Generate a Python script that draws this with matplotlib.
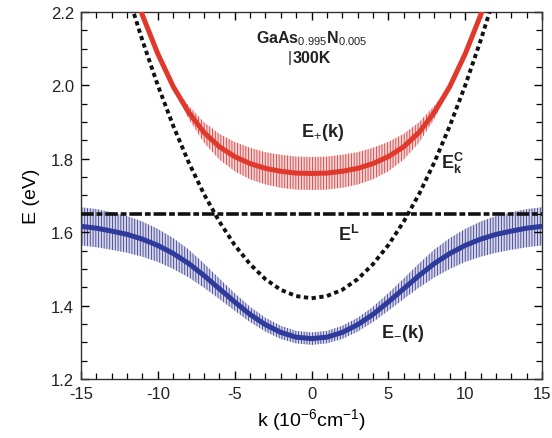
import matplotlib
matplotlib.use("Agg")
import matplotlib.pyplot as plt
import numpy as np

plt.rcParams['font.family'] = ['Liberation Sans', 'DejaVu Sans']
plt.rcParams['mathtext.fontset'] = 'custom'
plt.rcParams['mathtext.rm'] = 'Liberation Sans'
plt.rcParams['mathtext.it'] = 'Liberation Sans:italic'
plt.rcParams['mathtext.bf'] = 'Liberation Sans:bold'
plt.rcParams['hatch.linewidth'] = 0.6
plt.rcParams['axes.unicode_minus'] = False
plt.rcParams['xtick.direction'] = 'in'
plt.rcParams['ytick.direction'] = 'in'
plt.rcParams['xtick.top'] = True
plt.rcParams['ytick.right'] = True
plt.rcParams['xtick.major.size'] = 6
plt.rcParams['ytick.major.size'] = 6
plt.rcParams['xtick.minor.size'] = 4
plt.rcParams['ytick.minor.size'] = 4
plt.rcParams['xtick.major.width'] = 1.0
plt.rcParams['ytick.major.width'] = 1.0
plt.rcParams['xtick.minor.width'] = 0.9
plt.rcParams['ytick.minor.width'] = 0.9

# k values (1e6 cm^-1)
k_full = list(range(-15, 16))
k_mid = list(range(-12, 13))

# lower band E-(k) and its broadening, k = 0..15 (symmetric)
e_minus_half = [1.310, 1.314, 1.327, 1.348, 1.376, 1.410, 1.446, 1.482,
                1.515, 1.542, 1.564, 1.581, 1.594, 1.603, 1.611, 1.616]
err_minus_half = [0.017, 0.017, 0.018, 0.019, 0.021, 0.024, 0.028, 0.033,
                  0.038, 0.042, 0.045, 0.048, 0.050, 0.051, 0.052, 0.052]

# upper band E+(k) and its broadening, k = 0..12
e_plus_half = [1.760, 1.761, 1.766, 1.774, 1.787, 1.806, 1.833, 1.872,
               1.927, 1.997, 2.086, 2.191, 2.312]
err_plus_half = [0.045, 0.045, 0.045, 0.044, 0.043, 0.040, 0.035, 0.028,
                 0.018, 0.0, 0.0, 0.0, 0.0]

# unperturbed conduction band E_k^C, k = 0..12
ec_half = [1.420, 1.426, 1.443, 1.472, 1.513, 1.565, 1.629, 1.704,
           1.791, 1.890, 2.000, 2.122, 2.255]

# localized nitrogen level
e_l = 1.65

def mirror(v):
    return v[:0:-1] + v

e_minus = np.array(mirror(e_minus_half))
err_minus = np.array(mirror(err_minus_half))
e_plus = np.array(mirror(e_plus_half))
err_plus = np.array(mirror(err_plus_half))
ec = np.array(mirror(ec_half))

fig = plt.figure(figsize=(5.52, 4.39), dpi=100)
ax = fig.add_axes([0.1467, 0.1344, 0.8353, 0.836])

# broadened bands
ax.fill_between(k_mid, e_plus - err_plus, e_plus + err_plus,
                facecolor='#f5d4d4', edgecolor='#d23e3e', hatch='||||||',
                linewidth=0, zorder=1)
ax.fill_between(k_full, e_minus - err_minus, e_minus + err_minus,
                facecolor='#d6d6ea', edgecolor='#3b3f8f', hatch='||||||',
                linewidth=0, zorder=1)

# E_L and E_k^C
ax.plot([k_full[0], k_full[-1]], [e_l, e_l], color='#111111', lw=2.6,
        dashes=(3.5, 0.8, 1.6, 0.8), zorder=3)
ax.plot(k_mid, ec, color='#111111', lw=2.8, dashes=(1.1, 0.9), zorder=3)

# band centres
ax.plot(k_mid, e_plus, color='#e0392b', lw=3.6, zorder=4)
ax.plot(k_full, e_minus, color='#2e3a9c', lw=3.6, zorder=4)

ax.set_xlim(-15, 15)
ax.set_ylim(1.2, 2.2)
ax.set_xticks([-15, -10, -5, 0, 5, 10, 15])
ax.set_xticks(range(-15, 16), minor=True)
ax.set_yticks([1.2, 1.4, 1.6, 1.8, 2.0, 2.2])
ax.set_yticks(np.arange(1.2, 2.21, 0.05), minor=True)
ax.yaxis.set_major_formatter(matplotlib.ticker.FormatStrFormatter('%.1f'))
ax.tick_params(which='both', labelsize=12, labelcolor='#222222', pad=5)
for s in ax.spines.values():
    s.set_linewidth(1.0)
    s.set_color('#333333')

ax.set_xlabel(r'k (10$^{-6}$cm$^{-1}$)', fontsize=14, labelpad=4)
ax.set_ylabel('E (eV)', fontsize=14, labelpad=8)

# annotations
ax.text(0.0, 2.13, r'GaAs$_{0.995}$N$_{0.005}$', fontsize=11.5,
        fontweight='bold', ha='center', va='center', color='#222222')
ax.text(0.0, 2.077, '300K', fontsize=11.5, fontweight='bold', ha='center',
        va='center', color='#222222')
ax.text(-1.4, 2.077, '|', fontsize=11, ha='center', va='center',
        color='#222222')
ax.text(-0.7, 1.875, r'E$_{+}$(k)', fontsize=13, fontweight='bold',
        ha='left', va='center', color='#222222')
ax.text(8.4, 1.79, r'E$_{\mathregular{k}}^{\mathregular{C}}$', fontsize=13,
        fontweight='bold', ha='left', va='center', color='#222222')
ax.text(1.7, 1.595, r'E$^{\mathregular{L}}$', fontsize=13, fontweight='bold',
        ha='left', va='center', color='#222222')
ax.text(4.5, 1.328, r'E$_{-}$(k)', fontsize=13, fontweight='bold',
        ha='left', va='center', color='#222222')

fig.savefig('out.png', dpi=100)
